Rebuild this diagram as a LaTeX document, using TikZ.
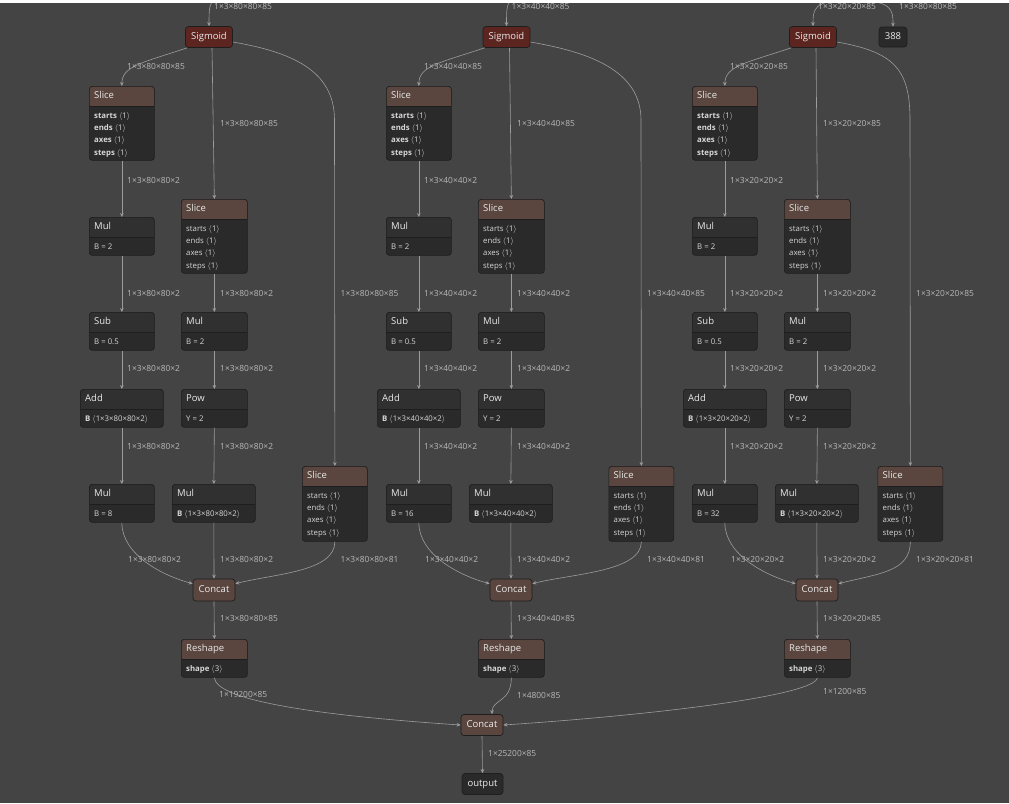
\documentclass[tikz,border=0pt]{standalone}
\usepackage{fontspec}
\setmainfont{Open Sans}
\usetikzlibrary{arrows.meta}

\definecolor{bgcol}{HTML}{444444}
\definecolor{bodycol}{HTML}{2A2A2A}
\definecolor{hdrdark}{HTML}{303030}
\definecolor{hdrshape}{HTML}{5A463F}
\definecolor{hdract}{HTML}{5C2520}
\definecolor{framecol}{HTML}{1E1E1E}
\definecolor{edgecol}{HTML}{9C9C9C}
\definecolor{lblcol}{HTML}{B8B8B8}
\definecolor{txtcol}{HTML}{EAEAEA}

% box with a header band: name, north west corner, width, height, header colour, title
\newcommand{\opbox}[6]{%
  \node[box, hdr=#5, minimum width=#3, minimum height=#4, anchor=north west] (#1) at #2 {};
  \node[ttl] (#1-t) at ([shift={(5pt,-10pt)}]#1.north west) {#6};
}
% one attribute line below the header: name of the box, line number, text
\newcommand{\oparg}[3]{%
  \node[attr] (#1-#2) at ([shift={(5pt,{-17.7pt-12.3pt*#2})}]#1.north west) {#3};
}
\newcommand{\abr}[1]{$\langle$#1$\rangle$}

\begin{document}
\begin{tikzpicture}[x=1pt, y=-1pt, >={Stealth[length=4pt,width=3.6pt]},
    box/.style={draw=framecol, line width=0.7pt, fill=bodycol, rounded corners=3pt, inner sep=0pt},
    hdr/.style={path picture={
        \fill[#1, sharp corners] (path picture bounding box.north west) rectangle ([yshift=-20pt]path picture bounding box.north east);
        \draw[framecol, line width=0.6pt, sharp corners] ([yshift=-20pt]path picture bounding box.north west) -- ([yshift=-20pt]path picture bounding box.north east);}},
    pill/.style={draw=framecol, line width=0.7pt, rounded corners=3pt, inner sep=0pt, text=txtcol,
        font=\fontsize{9.5}{11}\selectfont, text height=7pt, text depth=2pt},
    ttl/.style={anchor=west, inner sep=0pt, text=txtcol, font=\fontsize{9.5}{11}\selectfont, text height=7pt, text depth=2pt},
    attr/.style={anchor=west, inner sep=0pt, text=txtcol!92!black, font=\fontsize{7.8}{9}\selectfont, text height=5.8pt, text depth=1.6pt},
    lbl/.style={anchor=west, inner sep=0pt, text=lblcol, font=\fontsize{8.4}{10}\selectfont, text height=6.2pt, text depth=0pt},
    link/.style={->, draw=edgecol, line width=0.6pt}]

    \useasboundingbox (0,0) rectangle (1009,803);
    \fill[bgcol] (0,0) rectangle (1009,803);

    % Final concat and output
    \node[pill, fill=hdrshape, minimum width=42, minimum height=21] (fc) at (482,725) {Concat};
    \node[pill, fill=bodycol, minimum width=41, minimum height=21] (output) at (482.5,784) {output};
    \node[pill, fill=bodycol, minimum width=28, minimum height=20] (n388) at (893,37) {388};

    % One column per detection head
    \foreach \c/\o/\sx/\st/\ix/\g/\m in {1/0/209/334.5/217/80/8, 2/297/506.5/641/514/40/16, 3/603/813/910/850/20/32} {
        \node[pill, fill=hdract, minimum width=47, minimum height=21] (sig\c) at (\sx,37) {Sigmoid};

        \opbox{sla\c}{({89+\o},86)}{65}{74}{hdrshape}{Slice}
        \foreach \a [count=\i] in {starts,ends,axes,steps} {\oparg{sla\c}{\i}{\textbf{\a}~\abr{1}}}
        \opbox{slb\c}{({181+\o},199)}{66}{74}{hdrshape}{Slice}
        \foreach \a [count=\i] in {starts,ends,axes,steps} {\oparg{slb\c}{\i}{\a~\abr{1}}}
        \opbox{slc\c}{({\st-32.5},466)}{65}{75}{hdrshape}{Slice}
        \foreach \a [count=\i] in {starts,ends,axes,steps} {\oparg{slc\c}{\i}{\a~\abr{1}}}

        \opbox{mua\c}{({89+\o},217)}{65}{38}{hdrdark}{Mul}
        \oparg{mua\c}{1}{B = 2}
        \opbox{sub\c}{({89+\o},312)}{65}{38}{hdrdark}{Sub}
        \oparg{sub\c}{1}{B = 0.5}
        \opbox{mub\c}{({181+\o},312)}{66}{38}{hdrdark}{Mul}
        \oparg{mub\c}{1}{B = 2}
        \opbox{add\c}{({80+\o},389)}{83}{38}{hdrdark}{Add}
        \oparg{add\c}{1}{\textbf{B}~\abr{1×3×\g×\g×2}}
        \opbox{pow\c}{({181+\o},389)}{66}{38}{hdrdark}{Pow}
        \oparg{pow\c}{1}{Y = 2}
        \opbox{muc\c}{({89+\o},484)}{65}{38}{hdrdark}{Mul}
        \oparg{muc\c}{1}{B = \m}
        \opbox{mud\c}{({172+\o},484)}{83}{38}{hdrdark}{Mul}
        \oparg{mud\c}{1}{\textbf{B}~\abr{1×3×\g×\g×2}}

        \node[pill, fill=hdrshape, minimum width=42, minimum height=22] (cat\c) at ({214+\o},590) {Concat};
        \opbox{rsh\c}{({181+\o},639)}{66}{38}{hdrshape}{Reshape}
        \oparg{rsh\c}{1}{\textbf{shape}~\abr{3}}

        % Connectors
        \coordinate (in\c) at (\ix,0);
        \coordinate (bend\c) at (\st,120);
        \draw[link] (in\c) .. controls (\sx,0) and (\sx,10) .. (sig\c.north);
        \draw[link] ([xshift=2pt]sig\c.south west) .. controls +(-45,15) and +(0,-20) .. (sla\c.north);
        \draw[link] ([xshift=3pt]sig\c.south) -- (slb\c.north);
        \draw[link] ([yshift=-5pt]sig\c.east) .. controls +(58,10) and +(0,-50) .. (bend\c) -- (slc\c.north);
        \draw[link] (sla\c.south) -- (mua\c.north);
        \draw[link] (mua\c.south) -- (sub\c.north);
        \draw[link] (slb\c.south) -- (mub\c.north);
        \draw[link] (sub\c.south) -- (add\c.north);
        \draw[link] (mub\c.south) -- (pow\c.north);
        \draw[link] (add\c.south) -- (muc\c.north);
        \draw[link] (pow\c.south) -- (mud\c.north);
        \draw[link] (muc\c.south) .. controls +(0,32) and +(-30,-8) .. ([yshift=-5pt]cat\c.north west);
        \draw[link] (mud\c.south) -- (cat\c.north);
        \draw[link] (slc\c.south) .. controls +(0,30) and +(40,-10) .. ([yshift=-5pt]cat\c.north east);
        \draw[link] (cat\c.south) -- (rsh\c.north);

        % Tensor shapes
        \node[lbl] (lin\c) at ({\sx+5},6) {1×3×\g×\g×85};
        \node[lbl] (lsa\c) at ({127+\o},66) {1×3×\g×\g×85};
        \node[lbl] (lsb\c) at ({220+\o},123) {1×3×\g×\g×85};
        \node[lbl] (lsc\c) at ({\st+6},293) {1×3×\g×\g×85};
        \node[lbl] (lma\c) at ({127+\o},180) {1×3×\g×\g×2};
        \node[lbl] (lsu\c) at ({127+\o},293) {1×3×\g×\g×2};
        \node[lbl] (lmb\c) at ({220+\o},293) {1×3×\g×\g×2};
        \node[lbl] (lad\c) at ({127+\o},368) {1×3×\g×\g×2};
        \node[lbl] (lpo\c) at ({220+\o},368) {1×3×\g×\g×2};
        \node[lbl] (lmc\c) at ({127+\o},446) {1×3×\g×\g×2};
        \node[lbl] (lmd\c) at ({220+\o},446) {1×3×\g×\g×2};
        \node[lbl] (lca\c) at ({128+\o},559) {1×3×\g×\g×2};
        \node[lbl] (lcb\c) at ({220+\o},559) {1×3×\g×\g×2};
        \node[lbl] (lcc\c) at ({\st+6},559) {1×3×\g×\g×81};
        \node[lbl] (lrs\c) at ({220+\o},618) {1×3×\g×\g×85};
    }

    % 388 and the joins into the last concat
    \draw[link] (in3) .. controls (893,0) and (893,10) .. (n388.north);
    \node[lbl] (l388) at (899,6) {1×3×80×80×85};

    \draw[link] (rsh1.south) .. controls +(2,22) and +(-150,-10) .. (fc.west);
    \draw[link] (rsh2.south) .. controls +(0,25) and +(0,-15) .. ([xshift=10pt]fc.north);
    \draw[link] (rsh3.south) .. controls +(-2,18) and +(150,-10) .. (fc.east);
    \draw[link] (fc.south) -- (output.north);
    \node[lbl] (lf1) at (219,694) {1×19200×85};
    \node[lbl] (lf2) at (517,695) {1×4800×85};
    \node[lbl] (lf3) at (823,691) {1×1200×85};
    \node[lbl] (lout) at (488,753) {1×25200×85};

    \fill[white] (0,0) rectangle (1009,3);
\end{tikzpicture}
\end{document}
